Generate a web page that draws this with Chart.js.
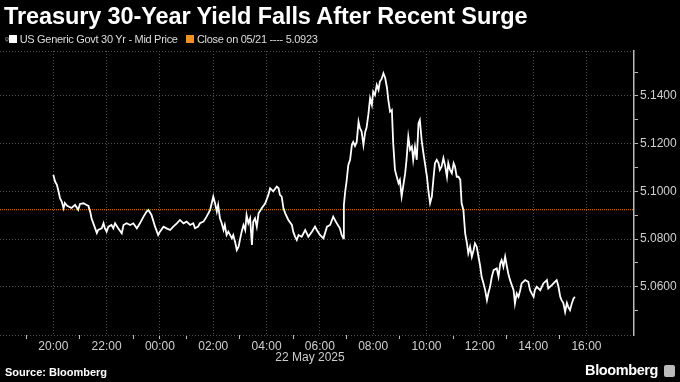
<!DOCTYPE html>
<html>
<head>
<meta charset="utf-8">
<script src="https://cdn.jsdelivr.net/npm/chart.js@4.4.1/dist/chart.umd.min.js"></script>
<style>
  html,body{margin:0;padding:0;background:#000;}
  #wrap{position:relative;width:680px;height:382px;background:#000;overflow:hidden;font-family:"Liberation Sans",Arial,sans-serif;}
  #cv{position:absolute;left:0;top:0;}
  .t{position:absolute;white-space:nowrap;}
  #title{left:4px;top:3px;font-size:23.5px;font-weight:bold;color:#fff;letter-spacing:-0.1px;}
  #legend{left:5px;top:33px;font-size:11px;color:#ddd;letter-spacing:-0.3px;}
  .sw{display:inline-block;width:8px;height:8px;vertical-align:-0px;margin-right:3px;}
  #date{left:270px;top:350px;font-size:12px;color:#ccc;width:80px;text-align:center;}
  #src{left:5px;top:366px;font-size:11px;font-weight:bold;color:#fff;}
  #logo{right:22px;top:362px;font-size:14.5px;font-weight:bold;color:#fff;letter-spacing:-0.4px;}
  #icon{position:absolute;right:5px;top:365px;width:11px;height:12px;background:#bbb;border-radius:2px;}
</style>
</head>
<body>
<div id="wrap">
  <canvas id="cv" width="680" height="382"></canvas>
  <div class="t" id="title">Treasury 30-Year Yield Falls After Recent Surge</div>
  <div class="t" id="legend"><span style="color:#888;font-size:9px;">ᵠ</span><span class="sw" style="background:#fff;"></span>US Generic Govt 30 Yr - Mid Price&nbsp;&nbsp;&nbsp;<span class="sw" style="background:#f0901e;"></span>Close on 05/21 ---- 5.0923</div>
  <div class="t" id="date">22 May 2025</div>
  <div class="t" id="src">Source: Bloomberg</div>
  <div class="t" id="logo">Bloomberg</div>
  <div id="icon"></div>
</div>
<script>
// minutes after 20:00 on 21 May 2025
const minutes = [0,4,8,11,15,19,23,26,31,41,
49,56,60,68,75,79,83,86,94,98,
101,109,113,116,120,124,131,135,139,146,
154,158,165,173,180,188,195,203,210,214,
221,229,236,240,248,255,263,270,278,285,
293,300,308,315,319,326,330,338,345,353,
360,364,368,371,375,379,383,386,390,394,
402,405,409,413,417,420,424,428,432,435,
439,443,447,450,454,458,462,469,477,484,
488,495,503,507,510,514,518,522,529,537,
540,544,548,552,559,567,574,582,589,593,
600,608,616,623,630,638,645,649,653,654,
657,660,664,668,672,675,679,683,687,690,
694,698,702,705,709,713,717,720,724,728,
732,735,739,743,747,751,754,758,762,765,
769,773,777,780,784,788,792,795,799,803,
807,810,814,818,822,825,829,833,837,841,
844,848,852,856,859,863,867,870,874,878,
882,886,889,893,897,901,904,908,912,916,
919,923,927,931,934,938,942,946,949,953,
957,961,964,968,972,976,979,983,987,991,
998,1002,1006,1009,1013,1017,1021,1024,1028,1036,
1039,1043,1047,1051,1054,1062,1069,1073,1081,1084,
1088,1096,1103,1111,1114,1122,1129,1133,1137,1141,
1144,1148,1152,1156,1159,1163,1167,1171,1174];

const yields = [5.1069,5.1041,5.1027,5.1006,5.0971,5.0957,5.0929,5.0951,5.0939,5.0930,
5.0943,5.0922,5.0947,5.0950,5.0943,5.0939,5.0915,5.0887,5.0846,5.0825,
5.0838,5.0845,5.0866,5.0846,5.0831,5.0852,5.0859,5.0845,5.0866,5.0845,
5.0824,5.0859,5.0866,5.0859,5.0866,5.0845,5.0866,5.0894,5.0915,5.0922,
5.0901,5.0852,5.0817,5.0831,5.0852,5.0845,5.0838,5.0852,5.0866,5.0880,
5.0866,5.0873,5.0859,5.0866,5.0845,5.0852,5.0866,5.0873,5.0894,5.0922,
5.0978,5.0950,5.0915,5.0943,5.0887,5.0866,5.0838,5.0859,5.0817,5.0831,
5.0803,5.0817,5.0789,5.0754,5.0768,5.0796,5.0831,5.0859,5.0838,5.0901,
5.0866,5.0887,5.0775,5.0873,5.0887,5.0852,5.0908,5.0929,5.0950,5.0985,
5.1013,5.1000,5.1020,5.1013,5.0985,5.0978,5.0929,5.0908,5.0880,5.0859,
5.0831,5.0810,5.0796,5.0817,5.0810,5.0838,5.0810,5.0831,5.0852,5.0838,
5.0817,5.0803,5.0852,5.0859,5.0894,5.0866,5.0845,5.0817,5.0803,5.0943,
5.1000,5.1041,5.1111,5.1132,5.1194,5.1207,5.1190,5.1208,5.1292,5.1266,
5.1250,5.1194,5.1249,5.1266,5.1320,5.1390,5.1362,5.1418,5.1404,5.1446,
5.1425,5.1460,5.1471,5.1495,5.1475,5.1434,5.1383,5.1334,5.1341,5.1202,
5.1090,5.1061,5.1034,5.1048,5.0978,5.1027,5.1076,5.1132,5.1229,5.1174,
5.1187,5.1132,5.1187,5.1132,5.1285,5.1299,5.1215,5.1160,5.1111,5.1061,
5.1006,5.0950,5.0978,5.1061,5.1118,5.1132,5.1118,5.1090,5.1104,5.1139,
5.1106,5.1061,5.1118,5.1090,5.1076,5.1118,5.1104,5.1061,5.1061,5.1048,
5.0950,5.0922,5.0824,5.0782,5.0740,5.0768,5.0726,5.0754,5.0782,5.0768,
5.0726,5.0684,5.0642,5.0616,5.0586,5.0544,5.0572,5.0600,5.0642,5.0670,
5.0677,5.0642,5.0698,5.0712,5.0684,5.0726,5.0684,5.0656,5.0628,5.0586,
5.0530,5.0572,5.0558,5.0586,5.0614,5.0628,5.0621,5.0586,5.0558,5.0586,
5.0600,5.0586,5.0614,5.0628,5.0593,5.0607,5.0621,5.0628,5.0600,5.0558,
5.0544,5.0532,5.0495,5.0532,5.0516,5.0502,5.0530,5.0551,5.0558];

const closeValue = 5.0923;
const xMin = -120, xMax = 1307;      // 18:00 on 21 May to ~17:47 on 22 May
const yMin = 5.0398, yMax = 5.1588;
const yTickLabels = [5.06, 5.08, 5.10, 5.12, 5.14];

const points = minutes.map((m, i) => ({x: m, y: yields[i]}));
const closeLine = [{x: xMin, y: closeValue}, {x: xMax, y: closeValue}];

function isLabelY(v){ return yTickLabels.some(t => Math.abs(t - v) < 1e-6); }
function isBoundY(v){ return Math.abs(v - yMin) < 1e-6 || Math.abs(v - yMax) < 1e-6; }
function hourOf(m){ return ((20 + Math.round(m/60)) % 24 + 24) % 24; }
function isEvenHour(m){ return Math.abs(m % 60) < 1e-6 && m >= 0 && m <= 1200 && (m/60) % 2 === 0; }

new Chart(document.getElementById('cv'), {
  type: 'line',
  data: {
    datasets: [
      {data: points, borderColor: '#ffffff', borderWidth: 1.8, pointRadius: 0, tension: 0, order: 1},
      {data: closeLine, borderColor: '#e8891b', borderWidth: 1, borderDash: [1, 1], pointRadius: 0, order: 2}
    ]
  },
  options: {
    responsive: false,
    animation: false,
    events: [],
    layout: {padding: {top: 51, left: 0, right: 0, bottom: 0}},
    plugins: {legend: {display: false}, tooltip: {enabled: false}},
    scales: {
      x: {
        type: 'linear', min: xMin, max: xMax,
        afterFit: s => { s.height = 47; },
        ticks: {
          stepSize: 60, autoSkip: false, maxRotation: 0, padding: 0,
          color: '#d0d0d0', font: {family: 'Liberation Sans', size: 12},
          callback: v => {
            if (!isEvenHour(v)) return '';
            return String(hourOf(v)).padStart(2, '0') + ':00';
          }
        },
        grid: {
          color: c => isEvenHour(c.tick.value) ? '#505050' : 'rgba(0,0,0,0)',
          lineWidth: 1,
          tickLength: 4,
          tickColor: c => {
            const v = c.tick.value;
            if (Math.abs(v % 60) > 1e-6 || v > 1250) return 'rgba(0,0,0,0)';
            const h = Math.round(v/60);
            return (Math.abs(h) % 2 === 1 || v === 240) ? '#bbbbbb' : 'rgba(0,0,0,0)';
          }
        },
        border: {display: false, dash: [1, 2]}
      },
      y: {
        type: 'linear', position: 'right', min: yMin, max: yMax,
        afterFit: s => { s.width = 46; },
        ticks: {
          stepSize: 0.01, autoSkip: false, padding: 2,
          color: '#d0d0d0', font: {family: 'Liberation Sans', size: 12},
          callback: v => isLabelY(v) ? v.toFixed(4) : ''
        },
        grid: {
          color: c => (isLabelY(c.tick.value) || isBoundY(c.tick.value)) ? '#505050' : 'rgba(0,0,0,0)',
          lineWidth: 1,
          tickLength: 4,
          tickColor: c => isBoundY(c.tick.value) ? 'rgba(0,0,0,0)' : '#bbbbbb'
        },
        border: {display: true, color: '#bbbbbb', width: 1.5, dash: [1, 2]}
      }
    }
  }
});
</script>
</body>
</html>
